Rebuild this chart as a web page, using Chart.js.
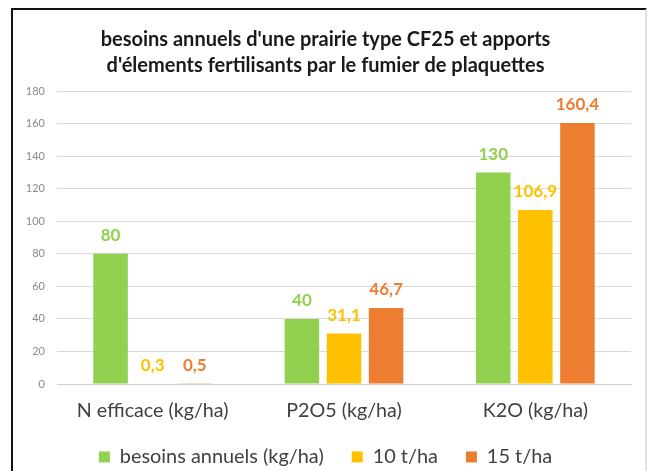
<!DOCTYPE html>
<html>
<head>
<meta charset="utf-8">
<script src="https://cdn.jsdelivr.net/npm/chart.js@4.4.1/dist/chart.umd.min.js"></script>
<style>
  html, body { margin: 0; padding: 0; background: #fff; overflow: hidden; }
  #cadre {
    position: absolute; left: 11px; top: 8px; width: 632px; height: 480px;
    border-left: 2px solid #111; border-top: 2px solid #111; border-right: 2px solid #e2e2e2;
  }
  #zone { position: absolute; left: 0; top: 0; width: 649px; height: 471px; }
</style>
</head>
<body>
<div id="cadre"></div>
<div id="zone"><canvas id="graphique" width="649" height="471"></canvas></div>
<script>
// valeurs
const categories = ["N efficace (kg/ha)", "P2O5 (kg/ha)", "K2O (kg/ha)"];
const besoins = [80, 40, 130];
const apport10 = [0.3, 31.1, 106.9];
const apport15 = [0.5, 46.7, 160.4];
const titre = ["besoins annuels d'une prairie type CF25 et apports", "d'élements fertilisants par le fumier de plaquettes"];

const VERT = "#92D050";
const JAUNE = "#FFC000";
const ORANGE = "#ED7D31";
const POLICE = "Lato, 'Open Sans', sans-serif";

// taille de police pour qu'un texte occupe la largeur voulue (pas de Calibri ici)
function tailleAjustee(texte, largeur, gras) {
  const ctx = document.createElement("canvas").getContext("2d");
  ctx.font = (gras ? "bold " : "") + "100px " + POLICE;
  return Math.round(100 * largeur / ctx.measureText(texte).width * 10) / 10;
}

const tailleAxe = tailleAjustee(categories[0], 152, false);
const tailleLegende = tailleAjustee("besoins annuels (kg/ha)", 204, false);

// etiquettes de valeur au-dessus des barres (format francais)
const etiquettes = {
  id: "etiquettes",
  afterDatasetsDraw(chart) {
    const ctx = chart.ctx;
    ctx.save();
    ctx.font = "bold 17px " + POLICE;
    ctx.textAlign = "center";
    ctx.textBaseline = "middle";
    chart.data.datasets.forEach((ds, i) => {
      chart.getDatasetMeta(i).data.forEach((bar, j) => {
        ctx.fillStyle = ds.backgroundColor;
        ctx.fillText(String(ds.data[j]).replace(".", ","), bar.x, bar.y - 18);
      });
    });
    ctx.restore();
  }
};

// remonte un peu la legende (le padding des libelles sert aussi a l'espacement horizontal)
const remonterLegende = {
  id: "remonterLegende",
  afterLayout(chart) {
    if (chart.legend) chart.legend.top -= 5;
  }
};

function init() {
  new Chart(document.getElementById("graphique"), {
    type: "bar",
    data: {
      labels: categories,
      datasets: [
        { label: "besoins annuels (kg/ha)", data: besoins, backgroundColor: VERT },
        { label: "10 t/ha", data: apport10, backgroundColor: JAUNE },
        { label: "15 t/ha", data: apport15, backgroundColor: ORANGE }
      ]
    },
    options: {
      responsive: false,
      animation: false,
      categoryPercentage: 0.66,
      barPercentage: 0.82,
      layout: { padding: { left: 20, right: 18, top: 27, bottom: 0 } },
      plugins: {
        title: {
          display: true,
          text: titre,
          color: "#1a1a1a",
          font: { family: POLICE, size: 20, weight: "bold", lineHeight: 1.3 },
          padding: { top: 0, bottom: 12 }
        },
        legend: {
          position: "bottom",
          maxHeight: 47,
          labels: {
            color: "#404040",
            font: { family: POLICE, size: tailleLegende },
            boxWidth: 11, boxHeight: 11, padding: 28
          }
        },
        tooltip: { enabled: false }
      },
      scales: {
        x: {
          afterFit(scale) { scale.height = 40; },
          grid: { display: false },
          border: { color: "#d0d0d0" },
          ticks: { color: "#404040", font: { family: POLICE, size: tailleAxe }, padding: 7 }
        },
        y: {
          min: 0, max: 180,
          afterFit(scale) { scale.width = 37; },
          grid: { color: "#d9d9d9", drawTicks: false },
          border: { display: false },
          ticks: { stepSize: 20, color: "#8a8a8a", font: { family: POLICE, size: 11 }, padding: 12 }
        }
      }
    },
    plugins: [etiquettes, remonterLegende]
  });
}

if (document.readyState === "loading") {
  document.addEventListener("DOMContentLoaded", init);
} else {
  init();
}
</script>
</body>
</html>
